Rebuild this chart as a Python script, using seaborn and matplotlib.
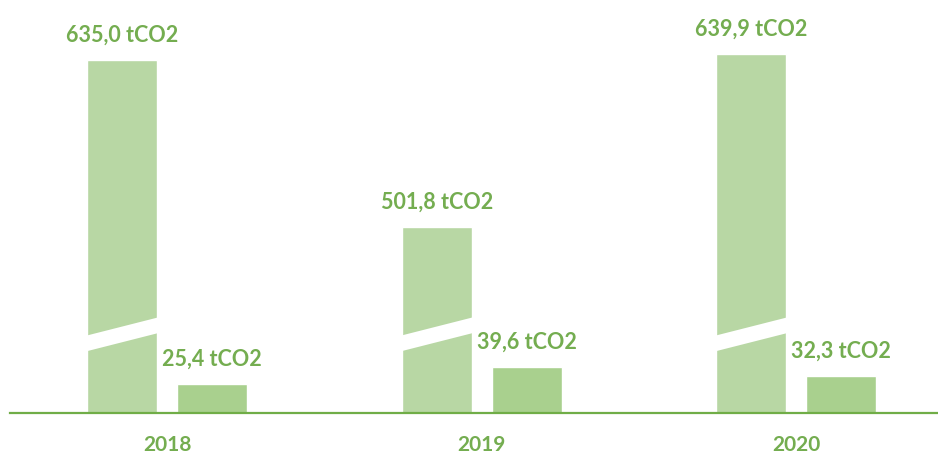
import numpy as np
import pandas as pd
import matplotlib
matplotlib.use("Agg")
import matplotlib.pyplot as plt
from matplotlib.patches import Polygon
import seaborn as sns

years = ["2018", "2019", "2020"]
big_values = [635.0, 501.8, 639.9]
small_values = [25.4, 39.6, 32.3]
kinds = ["big", "small"]

big_color = "#b8d7a4"
small_color = "#a9d08e"
text_color = "#74ad50"
line_color = "#70ad47"


# broken y axis: low part (small bars) and upper part (big bars)
def forward(v):
    v = np.asarray(v, dtype=float)
    return np.where(v <= 60, v * 0.925,
                    np.where(v >= 410, v - 353.5, 55.5 + (v - 60) / 350))


def inverse(d):
    d = np.asarray(d, dtype=float)
    return np.where(d <= 55.5, d / 0.925,
                    np.where(d >= 56.5, d + 353.5, 60 + (d - 55.5) * 350))


def fmt(v):
    return f"{v:.1f}".replace(".", ",") + " tCO2"


df = pd.DataFrame({
    "year": years * 2,
    "kind": [kinds[0]] * 3 + [kinds[1]] * 3,
    "value": big_values + small_values,
})

sns.set_theme(style="white")
plt.rcParams["font.family"] = ["Lato", "DejaVu Sans"]

fig = plt.figure(figsize=(9.38, 4.54), dpi=100)
ax = fig.add_axes([10 / 938, 41 / 454, 928 / 938, 413 / 454])

sns.barplot(data=df, x="year", y="value", hue="kind", hue_order=kinds,
            palette={"big": big_color, "small": small_color},
            width=0.57, gap=0.22, legend=False, ax=ax, saturation=1)

ax.set_yscale("function", functions=(forward, inverse))
ax.set_ylim(0, 682.8)
ax.set_xlim(-0.5, 2.4507)

for container, vals in zip(ax.containers, [big_values, small_values]):
    ax.bar_label(container, labels=[fmt(v) for v in vals], padding=10,
                 color=text_color, fontsize=15.5, fontweight="bold")

# white diagonal cut through the big bars
trans = ax.get_xaxis_transform()
for patch in ax.containers[0]:
    x0 = patch.get_x()
    w = patch.get_width()
    s = 0.043 / w
    e = 0.02
    xa, xb = x0 - e, x0 + w + e
    ya = 0.150 - s * e
    yb = 0.193 + s * e
    gap = 0.038
    poly = Polygon([(xa, ya), (xb, yb), (xb, yb + gap), (xa, ya + gap)],
                   closed=True, facecolor="white", edgecolor="none",
                   transform=trans, zorder=5)
    ax.add_patch(poly)

ax.set_xlabel("")
ax.set_ylabel("")
ax.set_yticks([])
ax.tick_params(axis="x", length=0, pad=16)
for lab in ax.get_xticklabels():
    lab.set_color(text_color)
    lab.set_fontweight("bold")
    lab.set_fontsize(15)

for side in ["top", "right", "left"]:
    ax.spines[side].set_visible(False)
ax.spines["bottom"].set_color(line_color)
ax.spines["bottom"].set_linewidth(1.6)

fig.savefig("out.png", dpi=100)
